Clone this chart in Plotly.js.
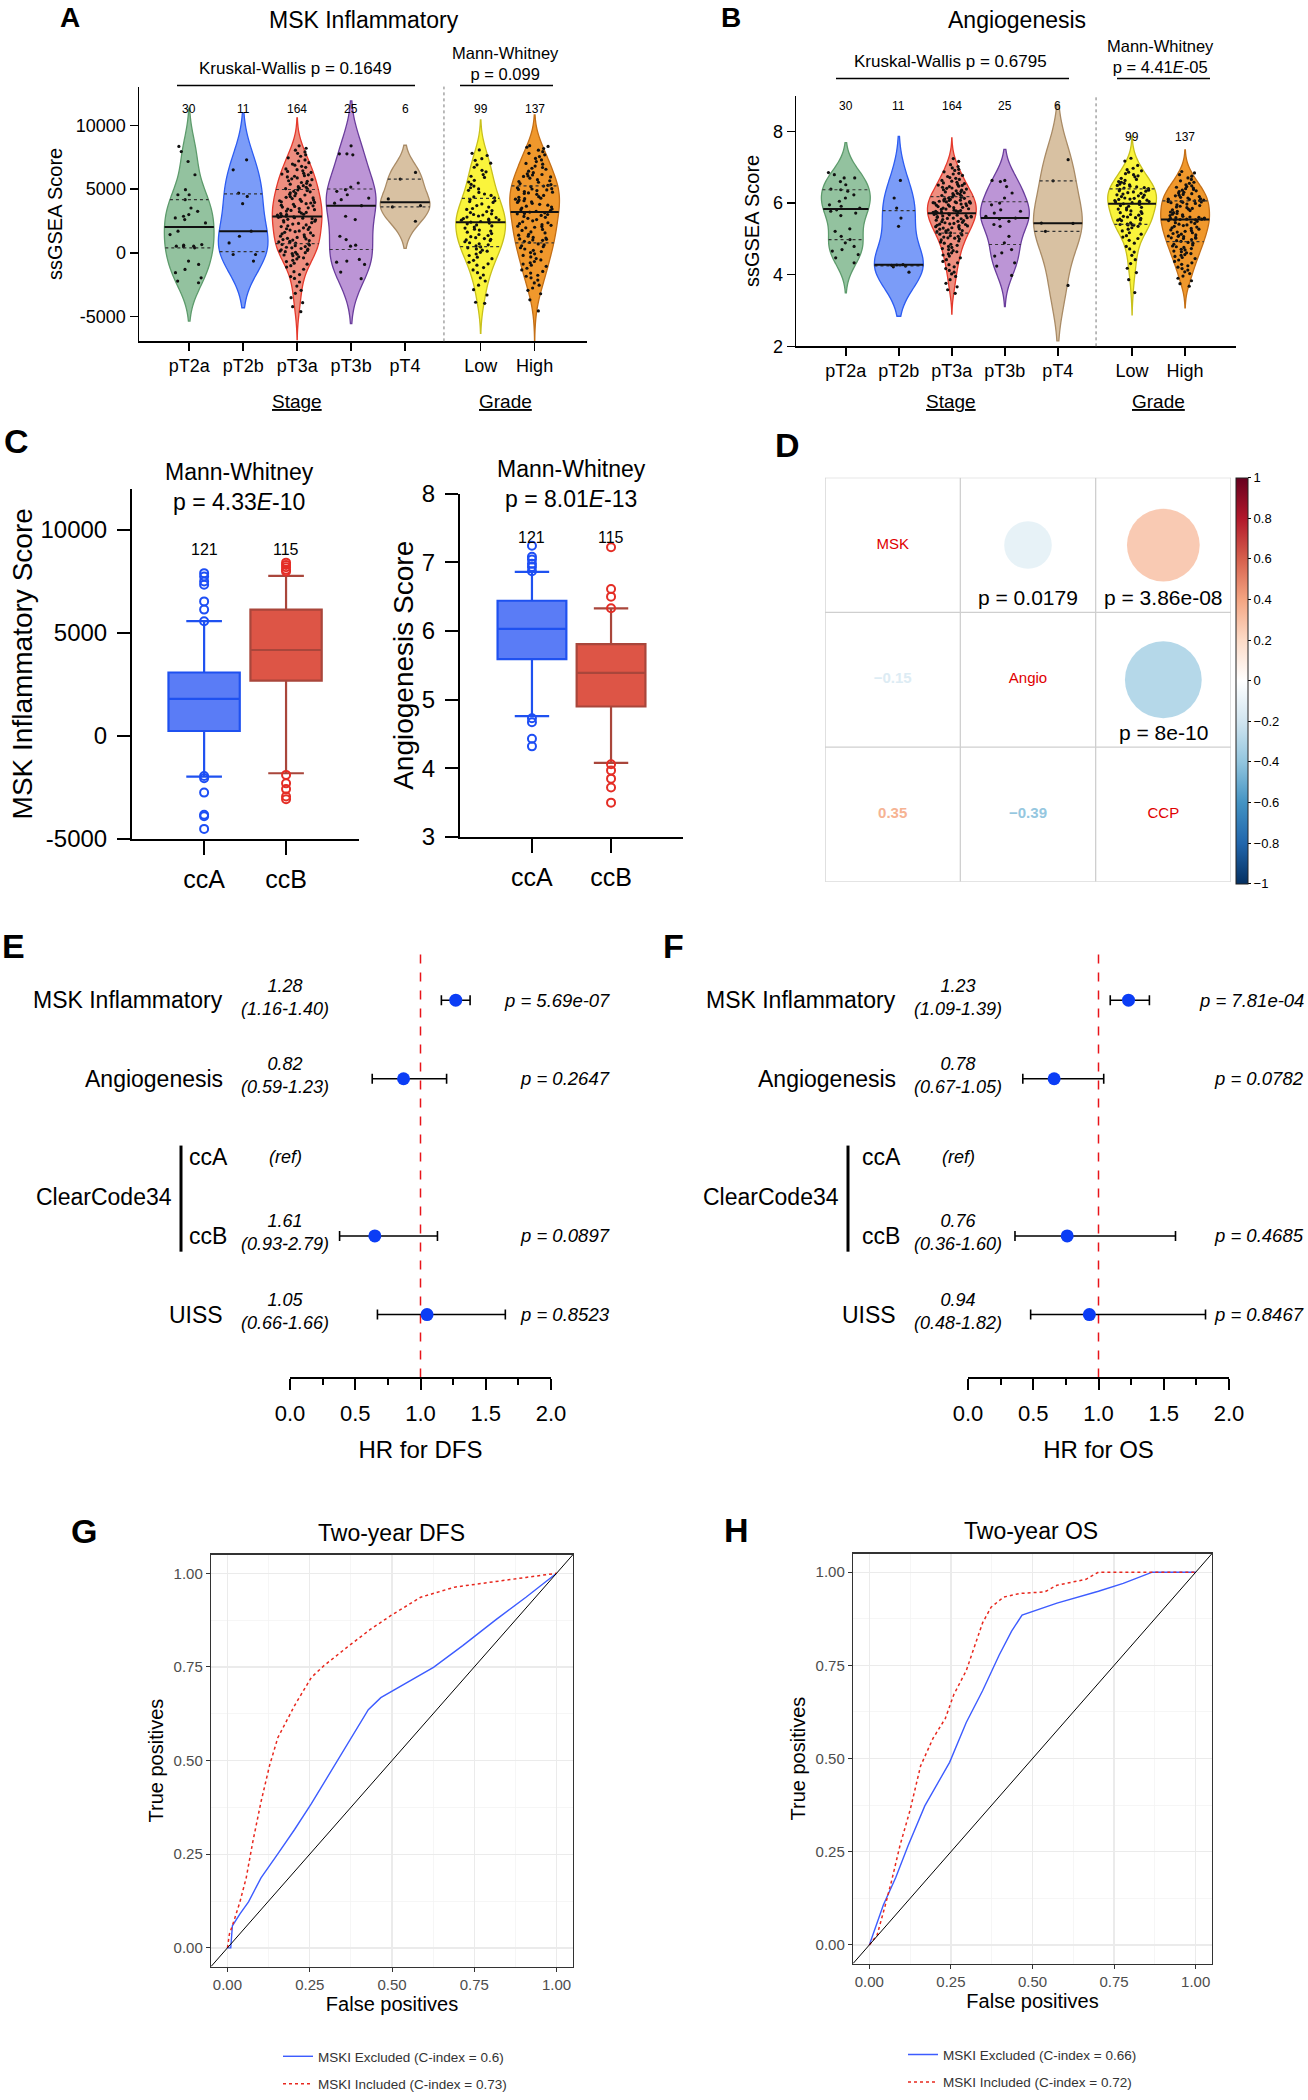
<!DOCTYPE html>
<html>
<head>
<meta charset="utf-8">
<script src="https://cdn.plot.ly/plotly-3.0.1.min.js"></script>
<style>
  body { margin: 0; background: #fff; }
  #fig { width: 1308px; height: 2100px; }
</style>
</head>
<body>
<div id="fig"></div>
<script>
// ---- data -----------------------------------------------------------------

// A/B: ssGSEA scores by stage and grade
var groupNames = ['pT2a', 'pT2b', 'pT3a', 'pT3b', 'pT4', 'Low', 'High'];
var groupN = ['30', '11', '164', '25', '6', '99', '137'];

var mskT2a = [8350, 7950, 7170, 6130, 4960, 4560, 4560, 4170, 3520, 3260, 3000, 2870, 2740, 2610, 2350,
  1700, 1430, 650, 600, 520, 520, 470, 390, -650, -910, -1300, -1560, -1960, -2220, -2350];
var mskT2b = [7300, 6520, 4690, 4430, 3860, 1700, 1300, 780, -130, -130, -650];
var mskT3a = [8400, 8210, 8060, 7920, 7810, 7690, 7580, 7460, 7290, 7210,
  7080, 6970, 6880, 6790, 6710, 6590, 6530, 6440, 6390, 6310,
  6240, 6180, 6120, 6060, 6010, 5960, 5880, 5810, 5740, 5660,
  5610, 5520, 5460, 5390, 5310, 5270, 5190, 5140, 5090, 5040,
  5000, 4940, 4890, 4830, 4790, 4710, 4660, 4590, 4540, 4480,
  4420, 4360, 4310, 4260, 4190, 4140, 4090, 4040, 4010, 3960,
  3910, 3860, 3810, 3740, 3690, 3640, 3590, 3530, 3480, 3440,
  3390, 3330, 3280, 3230, 3170, 3120, 3080, 3030, 3000, 2960,
  2910, 2870, 2840, 2820, 2790, 2760, 2720, 2680, 2630, 2590,
  2540, 2480, 2420, 2370, 2310, 2260, 2190, 2120, 2060, 2010,
  1960, 1890, 1840, 1790, 1720, 1660, 1610, 1560, 1490, 1420,
  1360, 1310, 1260, 1210, 1140, 1090, 1040, 1000, 960, 910,
  860, 810, 760, 700, 660, 610, 560, 490, 440, 390,
  340, 290, 240, 190, 140, 90, 40, 10, -60, -110,
  -170, -220, -310, -390, -480, -590, -690, -810, -890, -1010,
  -1120, -1290, -1480, -1710, -1860, -2010, -2290, -2610, -2940, -3180,
  -3520, -3910, -4230, -4620];
var mskT3b = [8400, 7770, 7770, 7690, 5480, 5160, 4960, 4830, 4560, 4300, 4170, 3900, 3700,
  2870, 2610, 1300, 1040, 600, 520, -520, -650, -730, -910, -1510, -2030];
var mskT4 = [6310, 5790, 4230, 3700, 3600, 2480];
var mskLow = [8080, 7810, 7640, 7390, 7260, 7040, 6910, 6720, 6480, 6360, 6140, 6010,
  5920, 5690, 5560, 5380, 5240, 5110, 5020, 4910, 4740, 4620, 4510, 4390, 4310, 4180, 4090, 4020,
  3960, 3840, 3710, 3590, 3480, 3410, 3320, 3240, 3160, 3060, 3010,
  2970, 2890, 2810, 2760, 2690, 2640, 2590, 2560, 2510, 2460, 2410, 2340, 2280, 2190, 2110, 2020,
  1940, 1860, 1790, 1710, 1620, 1510, 1440, 1360, 1270, 1190, 1120, 1060, 1010,
  960, 870, 790, 710, 630, 540, 460, 390, 310, 210, 130, 40,
  -90, -210, -340, -460, -590, -740, -860, -970, -1160, -1340, -1560, -1740, -1960,
  -2210, -2540, -2890, -3310, -3880, -3960];
var mskHigh = [8410, 8350, 8290, 8190, 8060, 7940, 7810, 7690, 7560, 7410, 7290, 7160, 7020,
  6960, 6810, 6700, 6640, 6560, 6410, 6290, 6210, 6150, 6110, 6040, 6000,
  5960, 5860, 5740, 5660, 5600, 5540, 5440, 5360, 5300, 5240, 5200, 5110, 5040, 5010,
  4980, 4940, 4890, 4810, 4760, 4700, 4660, 4590, 4510, 4410, 4360, 4290, 4250, 4210, 4140, 4090, 4060, 4010,
  3960, 3890, 3810, 3740, 3660, 3590, 3510, 3440, 3390, 3310, 3260, 3200, 3140, 3090, 3060, 3010,
  2940, 2860, 2790, 2710, 2610, 2510, 2440, 2360, 2290, 2210, 2160, 2090, 2060, 2010,
  1960, 1840, 1760, 1640, 1560, 1460, 1390, 1310, 1210, 1160, 1090, 1060, 1010,
  980, 900, 810, 700, 620, 550, 480, 400, 300, 200, 100, 20,
  -80, -200, -320, -450, -560, -680, -780, -880, -970,
  -1060, -1210, -1340, -1460, -1590, -1760, -1840, -1960,
  -2140, -2360, -2540, -2760, -2940, -3210, -3690, -4560];

var angT2a = [6.85, 6.79, 6.70, 6.70, 6.60, 6.51, 6.39, 6.37, 6.33, 6.23,
  6.14, 6.05, 5.95, 5.91, 5.86, 5.81, 5.77, 5.72, 5.65, 5.28,
  5.21, 5.07, 4.98, 4.89, 4.79, 4.70, 4.66, 4.56, 4.47, 4.33];
var angT2b = [6.63, 6.14, 5.86, 5.58, 5.35, 4.28, 4.27, 4.26, 4.24, 4.22, 4.07];
var angT3a = [7.24, 7.16, 7.07, 7.02,
  6.98, 6.94, 6.91, 6.87, 6.83, 6.81, 6.77, 6.74, 6.71, 6.69, 6.66, 6.63, 6.61, 6.58, 6.56, 6.54, 6.52, 6.50,
  6.49, 6.47, 6.46, 6.44, 6.42, 6.41, 6.39, 6.37, 6.36, 6.34, 6.32, 6.31, 6.29, 6.27, 6.26, 6.24, 6.22, 6.21, 6.19, 6.17,
  6.16, 6.14, 6.13, 6.12, 6.10, 6.09, 6.08, 6.07, 6.06, 6.05, 6.04, 6.03, 6.03, 6.02, 6.01, 6.01, 6.00, 6.00,
  5.98, 5.97, 5.95, 5.94, 5.93, 5.91, 5.90, 5.88, 5.87, 5.86, 5.84, 5.83, 5.82, 5.80, 5.79, 5.78, 5.77, 5.76, 5.75, 5.74,
  5.73, 5.72, 5.71, 5.70, 5.68, 5.67, 5.66, 5.65, 5.64, 5.63, 5.62, 5.61, 5.60, 5.59, 5.58, 5.57, 5.56, 5.54, 5.52, 5.51,
  5.49, 5.48, 5.46, 5.45, 5.43, 5.42, 5.41, 5.40, 5.38, 5.37, 5.36, 5.34, 5.33, 5.31, 5.30, 5.28, 5.27, 5.25, 5.23, 5.22,
  5.20, 5.18, 5.17, 5.15, 5.13, 5.11, 5.09, 5.07, 5.05, 5.03, 5.02, 5.00,
  4.97, 4.94, 4.91, 4.88, 4.85, 4.82, 4.79, 4.76, 4.73, 4.70, 4.67, 4.64, 4.61, 4.58, 4.55, 4.52,
  4.47, 4.42, 4.37, 4.33, 4.28, 4.22, 4.17, 4.12, 4.07, 4.02,
  3.95, 3.86, 3.76, 3.66, 3.58, 3.48];
var angT3b = [6.63, 6.63, 6.60, 6.46, 6.28, 6.14, 6.00, 5.95, 5.81, 5.77, 5.72, 5.63, 5.58,
  5.56, 5.49, 5.40, 5.35, 5.07, 4.89, 4.70, 4.61, 4.52, 4.33, 4.24, 3.98];
var angT4 = [7.21, 6.62, 5.44, 5.43, 5.21, 3.70];
var angLow = [7.25, 7.17, 7.05,
  6.97, 6.93, 6.90, 6.86, 6.82, 6.79, 6.76, 6.73, 6.69, 6.66, 6.63, 6.60, 6.58, 6.55, 6.53, 6.51,
  6.49, 6.47, 6.45, 6.43, 6.42, 6.40, 6.38, 6.36, 6.34, 6.33, 6.31, 6.29, 6.27, 6.25, 6.23,
  6.22, 6.20, 6.18, 6.16, 6.14, 6.13, 6.11, 6.10, 6.08, 6.07, 6.05, 6.04, 6.03, 6.02, 6.01,
  5.98, 5.96, 5.93, 5.91, 5.88, 5.86, 5.83, 5.81, 5.78, 5.76, 5.73, 5.71, 5.68, 5.66, 5.63,
  5.61, 5.59, 5.57, 5.55, 5.53, 5.52, 5.51,
  5.45, 5.42, 5.41, 5.40, 5.40, 5.39, 5.38, 5.35, 5.31, 5.27, 5.22, 5.17, 5.13, 5.09, 5.05, 5.01,
  4.96, 4.88, 4.79, 4.72, 4.63, 4.54, 4.42, 4.31, 4.18, 4.06, 3.86, 3.50];
var angHigh = [6.88, 6.84, 6.79, 6.75, 6.70, 6.66, 6.62, 6.58, 6.55, 6.51,
  6.48, 6.46, 6.44, 6.42, 6.40, 6.38, 6.36, 6.34, 6.32, 6.30, 6.28, 6.26, 6.24, 6.22, 6.20,
  6.18, 6.16, 6.14, 6.12, 6.11, 6.10, 6.09, 6.08, 6.07, 6.06, 6.05, 6.04, 6.03, 6.02, 6.01,
  5.99, 5.97, 5.95, 5.93, 5.91, 5.89, 5.87, 5.85, 5.83, 5.81, 5.79, 5.77, 5.75, 5.73, 5.71, 5.69,
  5.67, 5.65, 5.63, 5.61, 5.60, 5.59, 5.58, 5.57, 5.56, 5.56, 5.55, 5.55, 5.54, 5.53, 5.52, 5.51,
  5.49, 5.47, 5.45, 5.43, 5.41, 5.39, 5.37, 5.35, 5.33, 5.31, 5.29, 5.27, 5.25, 5.23, 5.21, 5.19,
  5.17, 5.15, 5.13, 5.11, 5.09, 5.08, 5.07, 5.06, 5.04, 5.03, 5.02, 5.01,
  4.98, 4.95, 4.93, 4.90, 4.88, 4.85, 4.83, 4.80, 4.78, 4.76, 4.73, 4.71, 4.69, 4.66, 4.64, 4.61, 4.59, 4.56, 4.54, 4.51,
  4.48, 4.45, 4.41, 4.37, 4.33, 4.29, 4.25, 4.21, 4.17, 4.13, 4.08, 4.03,
  3.96, 3.90, 3.83, 3.75, 3.68];

// C: ClearCode34 box plots (precomputed box statistics + outliers)
var ccNames = ['ccA', 'ccB'];
var ccN = ['121', '115'];
var mskQ1 = [240, 2680], mskMed = [1800, 4170], mskQ3 = [3080, 6130], mskLoW = [-1970, -1810], mskHiW = [5570, 7770];
var mskOutA = [7900, 7740, 7500, 7340, 6530, 6130, 5570, -1940, -2050, -2750, -3820, -3900, -4510];
var mskOutB = [8410, 8300, 8190, 8060, 7980, -1890, -2300, -2580, -2940, -3070];
var angQ1 = [5.59, 4.90], angMed = [6.03, 5.39], angQ3 = [6.44, 5.81], angLoW = [4.76, 4.08], angHiW = [6.86, 6.33];
var angOutA = [7.24, 7.08, 7.04, 6.98, 6.93, 6.87, 4.73, 4.67, 4.43, 4.32];
var angOutB = [7.22, 6.61, 6.50, 6.33, 4.06, 3.97, 3.85, 3.72, 3.50];

// D: correlation matrix
var corrVars = ['MSK', 'Angio', 'CCP'];
var corrR = [[1, -0.15, 0.35], [-0.15, 1, -0.39], [0.35, -0.39, 1]];
var corrP = [[null, '0.0179', '3.86e-08'], [null, null, '8e-10'], [null, null, null]];

// E/F: Cox hazard ratios
var rowKeys = ['MSK Inflammatory', 'Angiogenesis', 'ccA', 'ccB', 'UISS'];
var hrDfs = [1.27, 0.87, null, 0.65, 1.05];
var loDfs = [1.16, 0.63, null, 0.38, 0.67];
var hiDfs = [1.38, 1.20, null, 1.13, 1.65];
var hrTextDfs = ['1.28', '0.82', '', '1.61', '1.05'];
var ciTextDfs = ['(1.16-1.40)', '(0.59-1.23)', '(ref)', '(0.93-2.79)', '(0.66-1.66)'];
var pTextDfs = ['p = 5.69e-07', 'p = 0.2647', '', 'p = 0.0897', 'p = 0.8523'];
var hrOs = [1.23, 0.66, null, 0.76, 0.93];
var loOs = [1.09, 0.42, null, 0.36, 0.48];
var hiOs = [1.39, 1.04, null, 1.59, 1.82];
var hrTextOs = ['1.23', '0.78', '', '0.76', '0.94'];
var ciTextOs = ['(1.09-1.39)', '(0.67-1.05)', '(ref)', '(0.36-1.60)', '(0.48-1.82)'];
var pTextOs = ['p = 7.81e-04', 'p = 0.0782', '', 'p = 0.4685', 'p = 0.8467'];

// G/H: time-dependent ROC curves
var dfsExclFpr = [0, 0.010, 0.015, 0.038, 0.064, 0.102, 0.153, 0.204, 0.255, 0.332, 0.383, 0.428, 0.466, 0.562, 0.626, 0.715, 0.817, 0.907, 1];
var dfsExclTpr = [0, 0, 0.059, 0.091, 0.123, 0.187, 0.251, 0.316, 0.385, 0.497, 0.572, 0.636, 0.668, 0.717, 0.749, 0.807, 0.877, 0.936, 1];
var dfsInclFpr = [0, 0.006, 0.019, 0.038, 0.057, 0.077, 0.102, 0.128, 0.153, 0.204, 0.255, 0.294, 0.370, 0.434, 0.498, 0.587, 0.690, 0.779, 0.907, 1];
var dfsInclTpr = [0, 0.037, 0.070, 0.123, 0.187, 0.283, 0.390, 0.487, 0.561, 0.647, 0.722, 0.754, 0.807, 0.850, 0.888, 0.936, 0.963, 0.973, 0.989, 1];
var osExclFpr = [0, 0.018, 0.043, 0.081, 0.119, 0.170, 0.246, 0.297, 0.347, 0.398, 0.436, 0.468, 0.575, 0.702, 0.778, 0.867, 1];
var osExclTpr = [0, 0.043, 0.107, 0.181, 0.267, 0.373, 0.490, 0.597, 0.682, 0.778, 0.842, 0.885, 0.917, 0.949, 0.970, 1, 1];
var osInclFpr = [0, 0.024, 0.049, 0.068, 0.094, 0.125, 0.157, 0.195, 0.233, 0.259, 0.297, 0.322, 0.347, 0.373, 0.411, 0.461, 0.537, 0.575, 0.626, 0.664, 0.702, 1];
var osInclTpr = [0, 0.027, 0.107, 0.171, 0.267, 0.362, 0.480, 0.554, 0.608, 0.672, 0.736, 0.800, 0.864, 0.906, 0.933, 0.943, 0.947, 0.965, 0.975, 0.981, 1, 1];

// ---- page geometry helpers (pixel -> paper) --------------------------------
var W = 1308, H = 2100;
function fx(px) { return px / W; }
function fy(px) { return 1 - px / H; }
function dx(a, b) { return [a / W, b / W]; }
function dy(top, bottom) { return [1 - bottom / H, 1 - top / H]; }

var traces = [], shapes = [], notes = [];

function label(text, x, y, size, extra) {
  var a = { text: text, x: fx(x), y: fy(y), xref: 'paper', yref: 'paper', showarrow: false,
    xanchor: 'center', yanchor: 'middle', font: { size: size, color: '#000' } };
  for (var k in extra) a[k] = extra[k];
  return a;
}
function seg(x0, y0, x1, y1, width, dash, color) {
  return { type: 'line', xref: 'paper', yref: 'paper', x0: fx(x0), y0: fy(y0), x1: fx(x1), y1: fy(y1),
    line: { color: color || '#000', width: width || 1.5, dash: dash || 'solid' } };
}

// ---- A / B violins ---------------------------------------------------------
var catPos = [0, 1, 2, 3, 4, 5.4, 6.4];
var vWidth = 0.92;
var vFill = ['#93c29f', '#7b9cf8', '#ee8e7f', '#bc95d6', '#d8c1a2', '#faf43c', '#f0982c'];
var vLine = ['#5d9b6c', '#2c5cf2', '#e5392c', '#6a3d9c', '#a98b66', '#c8c01c', '#c46f16'];

function interp(s, p) {
  var n = p * s.length - 0.5;
  if (n < 0) return s[0];
  if (n > s.length - 1) return s[s.length - 1];
  var f = n % 1;
  return f * s[Math.ceil(n)] + (1 - f) * s[Math.floor(n)];
}

// median / quartile lines spanning the violin outline (same KDE as plotly)
function violinLines(vals, pos, xref, yref) {
  var s = vals.slice().sort(function (a, b) { return a - b; });
  var n = s.length;
  var mean = s.reduce(function (a, b) { return a + b; }, 0) / n;
  var sd = Math.sqrt(s.reduce(function (a, v) { return a + (v - mean) * (v - mean); }, 0) / (n - 1));
  var q1 = interp(s, 0.25), med = interp(s, 0.5), q3 = interp(s, 0.75);
  var bw = Math.max(1.059 * Math.min(sd, (q3 - q1) / 1.349) * Math.pow(n, -0.2), (s[n - 1] - s[0]) / 100);
  function kde(t) {
    var sum = 0;
    for (var i = 0; i < n; i++) { var u = (t - s[i]) / bw; sum += Math.exp(-u * u / 2); }
    return sum;
  }
  var lo = s[0] - 2 * bw, hi = s[n - 1] + 2 * bw, steps = Math.ceil((hi - lo) / (bw / 3)), maxK = 0;
  for (var k = 0; k <= steps; k++) maxK = Math.max(maxK, kde(lo + k * (hi - lo) / steps));
  return [[q1, 'dot', 1.2, '#333'], [med, 'solid', 2, '#111'], [q3, 'dot', 1.2, '#333']].map(function (q) {
    var hw = vWidth / 2 * kde(q[0]) / maxK;
    return { type: 'line', xref: xref, yref: yref, x0: pos - hw, x1: pos + hw, y0: q[0], y1: q[0],
      line: { color: q[3], width: q[2], dash: q[1] } };
  });
}

function addViolins(groups, xa, ya) {
  groups.forEach(function (vals, k) {
    traces.push({ type: 'violin', x0: catPos[k], y: vals, name: groupNames[k], xaxis: xa, yaxis: ya,
      width: vWidth, fillcolor: vFill[k], line: { color: vLine[k], width: 1.3 },
      points: 'all', pointpos: 0, jitter: 0.8, marker: { size: 3.2, color: '#111' },
      spanmode: 'soft', scalemode: 'width', showlegend: false, hoverinfo: 'y' });
    shapes = shapes.concat(violinLines(vals, catPos[k], xa, ya));
  });
  shapes.push({ type: 'line', xref: xa, yref: ya + ' domain', x0: 4.72, x1: 4.72, y0: 0, y1: 1,
    line: { color: '#777', width: 1, dash: 'dot' } });
}
addViolins([mskT2a, mskT2b, mskT3a, mskT3b, mskT4, mskLow, mskHigh], 'x', 'y');
addViolins([angT2a, angT2b, angT3a, angT3b, angT4, angLow, angHigh], 'x2', 'y2');

groupN.forEach(function (t, k) {
  notes.push({ text: t, x: catPos[k], xref: 'x', y: fy(100), yref: 'paper', xanchor: 'center', showarrow: false, font: { size: 12 } });
  notes.push({ text: t, x: catPos[k], xref: 'x2', y: fy(k < 5 ? 97 : 129), yref: 'paper', xanchor: 'center', showarrow: false, font: { size: 12 } });
});

notes.push(label('MSK Inflammatory', 364, 20, 23));
notes.push(label('Angiogenesis', 1017, 20, 23));
notes.push(label('Kruskal-Wallis p = 0.1649', 295, 69, 17));
notes.push(label('Mann-Whitney<br>p = 0.099', 506, 64, 16.5));
notes.push(label('Kruskal-Wallis p = 0.6795', 950, 62, 17));
notes.push(label('Mann-Whitney<br>p = 4.41<i>E</i>-05', 1160, 57, 16.5));
shapes.push(seg(177, 86, 415, 86), seg(460, 86, 553, 86), seg(836, 79, 1069, 79), seg(1117, 79, 1210, 79));
notes.push(label('<u>Stage</u>', 297, 403, 19), label('<u>Grade</u>', 505, 403, 19));
notes.push(label('<u>Stage</u>', 951, 403, 19), label('<u>Grade</u>', 1158, 403, 19));

// ---- C boxes ---------------------------------------------------------------
var ccFill = ['#5a7cf6', '#dd5546'];
var ccLine = ['#1f51f0', '#a9463b'];
var ccOut = ['#1d4ef5', '#e42d25'];
function addBoxes(q1, med, q3, lo, hi, outs, xa, ya, nY) {
  [0, 1].forEach(function (k) {
    traces.push({ type: 'box', x: [k], q1: [q1[k]], median: [med[k]], q3: [q3[k]],
      lowerfence: [lo[k]], upperfence: [hi[k]], name: ccNames[k], xaxis: xa, yaxis: ya,
      width: 0.87, whiskerwidth: 0.5, fillcolor: ccFill[k], line: { color: ccLine[k], width: 2.2 },
      boxpoints: false, showlegend: false, hoverinfo: 'y' });
    traces.push({ type: 'scatter', mode: 'markers', x: outs[k].map(function () { return k; }), y: outs[k],
      xaxis: xa, yaxis: ya, marker: { symbol: 'circle-open', size: 8, color: ccOut[k], line: { width: 2 } },
      showlegend: false, hoverinfo: 'y' });
    notes.push({ text: ccN[k], x: k, xref: xa, y: fy(nY), yref: 'paper', xanchor: 'center',
      showarrow: false, font: { size: 16 } });
  });
}
addBoxes(mskQ1, mskMed, mskQ3, mskLoW, mskHiW, [mskOutA, mskOutB], 'x3', 'y3', 542);
addBoxes(angQ1, angMed, angQ3, angLoW, angHiW, [angOutA, angOutB], 'x4', 'y4', 530);
notes.push(label('Mann-Whitney<br>p = 4.33<i>E</i>-10', 239, 489, 23));
notes.push(label('Mann-Whitney<br>p = 8.01<i>E</i>-13', 571, 486, 23));

// ---- D correlation plot ----------------------------------------------------
var rdbu = ['#053061', '#2166AC', '#4393C3', '#92C5DE', '#D1E5F0', '#FFFFFF', '#FDDBC7', '#F4A582', '#D6604D', '#B2182B', '#67001F'];
var rdbuScale = rdbu.map(function (c, i) { return [i / 10, c]; });
function rdbuColor(r) {
  var t = (r + 1) * 5, i = Math.min(9, Math.floor(t)), f = t - i;
  var a = rdbu[i], b = rdbu[i + 1], out = [];
  for (var c = 0; c < 3; c++) {
    var va = parseInt(a.substr(1 + 2 * c, 2), 16), vb = parseInt(b.substr(1 + 2 * c, 2), 16);
    out.push(Math.round(va + (vb - va) * f));
  }
  return 'rgb(' + out.join(',') + ')';
}
var cX = [], cY = [], cR = [], cS = [], tX = [], tY = [], tT = [], tC = [], dX = [], dY = [];
corrVars.forEach(function (v, i) {
  dX.push(i + 0.5); dY.push(i + 0.5);
  corrVars.forEach(function (w, j) {
    var r = corrR[i][j];
    if (j > i) {
      cX.push(j + 0.5); cY.push(i + 0.5); cR.push(r); cS.push(123 * Math.sqrt(Math.abs(r)));
      notes.push({ text: 'p = ' + corrP[i][j], x: j + 0.5, y: i + 0.89, xref: 'x5', yref: 'y5',
        xanchor: 'center', showarrow: false, font: { size: 21 } });
    } else if (j < i) {
      tX.push(j + 0.5); tY.push(i + 0.5); tC.push(rdbuColor(r));
      tT.push('<b>' + r.toFixed(2).replace('-', '\u2212') + '</b>');
    }
  });
});
traces.push({ type: 'scatter', mode: 'markers', x: cX, y: cY, xaxis: 'x5', yaxis: 'y5', showlegend: false,
  hoverinfo: 'text', text: cR.map(String),
  marker: { size: cS, color: cR, colorscale: rdbuScale, cmin: -1, cmax: 1, line: { width: 0 }, showscale: true,
    colorbar: { x: fx(1236), xanchor: 'left', y: fy(480), yanchor: 'top', len: 406, lenmode: 'pixels',
      thickness: 12, thicknessmode: 'pixels', xpad: 0, ypad: 0, outlinewidth: 1, outlinecolor: '#222',
      tickvals: [-1, -0.8, -0.6, -0.4, -0.2, 0, 0.2, 0.4, 0.6, 0.8, 1],
      ticktext: ['\u22121', '\u22120.8', '\u22120.6', '\u22120.4', '\u22120.2', '0', '0.2', '0.4', '0.6', '0.8', '1'],
      ticks: 'outside', ticklen: 3, tickcolor: '#000', tickfont: { size: 13, color: '#000' } } } });
traces.push({ type: 'scatter', mode: 'text', x: tX, y: tY, text: tT, xaxis: 'x5', yaxis: 'y5',
  textfont: { size: 15, color: tC }, showlegend: false, hoverinfo: 'skip' });
traces.push({ type: 'scatter', mode: 'text', x: dX, y: dY, text: corrVars, xaxis: 'x5', yaxis: 'y5',
  textfont: { size: 15, color: '#e00000' }, showlegend: false, hoverinfo: 'skip' });
for (var g = 0; g <= 3; g++) {
  shapes.push({ type: 'line', xref: 'x5', yref: 'y5', x0: g, x1: g, y0: 0, y1: 3, line: { color: '#cfcfcf', width: 1.3 }, layer: 'below' });
  shapes.push({ type: 'line', xref: 'x5', yref: 'y5', x0: 0, x1: 3, y0: g, y1: g, line: { color: '#cfcfcf', width: 1.3 }, layer: 'below' });
}

// ---- E / F forest plots ----------------------------------------------------
function forest(n, hr, lo, hi, hrText, ciText, pText, at) {
  var xa = 'x' + n, ya = 'y' + n;
  traces.push({ type: 'scatter', mode: 'markers', x: hr, y: rowKeys, xaxis: xa, yaxis: ya, showlegend: false,
    marker: { size: 13, color: '#0b3df5' }, hoverinfo: 'x',
    error_x: { type: 'data', symmetric: false, color: '#000', thickness: 1.6, width: 5,
      array: hi.map(function (v, i) { return v == null ? null : v - hr[i]; }),
      arrayminus: lo.map(function (v, i) { return v == null ? null : hr[i] - v; }) } });
  shapes.push({ type: 'line', xref: xa, yref: ya + ' domain', x0: 1, x1: 1, y0: 0, y1: 1,
    line: { color: '#e8141a', width: 1.5, dash: 'dash' }, layer: 'below' });
  shapes.push({ type: 'line', xref: 'paper', yref: ya, x0: fx(at.bar), x1: fx(at.bar), y0: 1.85, y1: 3.2,
    line: { color: '#000', width: 3 } });
  notes.push({ text: 'ClearCode34', x: fx(at.group), xref: 'paper', y: 2.5, yref: ya, xanchor: 'left',
    showarrow: false, font: { size: 23 } });
  rowKeys.forEach(function (key, i) {
    var sub = key === 'ccA' || key === 'ccB';
    notes.push({ text: key, x: fx(sub ? at.sub : at.right), xref: 'paper', y: i, yref: ya,
      xanchor: sub ? 'left' : 'right', showarrow: false, font: { size: 23 } });
    notes.push({ text: hrText[i] ? '<i>' + hrText[i] + '</i><br><i>' + ciText[i] + '</i>' : '<i>' + ciText[i] + '</i>',
      x: fx(at.hr), xref: 'paper', xanchor: 'center', y: i, yref: ya, yshift: hrText[i] ? 3 : 0,
      showarrow: false, font: { size: 18 } });
    if (pText[i]) notes.push({ text: '<i>' + pText[i] + '</i>', x: fx(at.p), xref: 'paper', y: i, yref: ya,
      xanchor: 'right', showarrow: false, font: { size: 18.5 } });
  });
}
forest(6, hrDfs, loDfs, hiDfs, hrTextDfs, ciTextDfs, pTextDfs, { right: 225, sub: 187, group: 34, bar: 181, hr: 285, p: 612 });
forest(7, hrOs, loOs, hiOs, hrTextOs, ciTextOs, pTextOs, { right: 898, sub: 860, group: 701, bar: 848, hr: 958, p: 1306 });

// ---- G / H ROC -------------------------------------------------------------
function roc(xa, ya, leg, exclF, exclT, exclName, inclF, inclT, inclName) {
  traces.push({ type: 'scatter', mode: 'lines', x: exclF, y: exclT, xaxis: xa, yaxis: ya, name: exclName,
    legend: leg, legendgroup: leg + 'a', line: { color: '#3d5cff', width: 1.4 } });
  traces.push({ type: 'scatter', mode: 'lines', x: inclF, y: inclT, xaxis: xa, yaxis: ya, name: inclName,
    legend: leg, legendgroup: leg + 'b', line: { color: '#e8281e', width: 1.5, dash: 'dot' } });
  shapes.push({ type: 'line', xref: xa, yref: ya, x0: -0.05, y0: -0.05, x1: 1.05, y1: 1.05,
    line: { color: '#000', width: 1 } });
}
roc('x8', 'y8', 'legend', dfsExclFpr, dfsExclTpr, 'MSKI Excluded (C-index = 0.6)', dfsInclFpr, dfsInclTpr, 'MSKI Included (C-index = 0.73)');
roc('x9', 'y9', 'legend2', osExclFpr, osExclTpr, 'MSKI Excluded (C-index = 0.66)', osInclFpr, osInclTpr, 'MSKI Included (C-index = 0.72)');
notes.push(label('Two-year DFS', 391, 1540, 23), label('Two-year OS', 1031, 1538, 23));

// panel letters
[['A', 70, 18, 28], ['B', 731, 18, 28], ['D', 787, 447, 34], ['F', 673, 951, 34], ['G', 84, 1538, 34], ['H', 736, 1537, 34]]
  .forEach(function (p) { notes.push(label('<b>' + p[0] + '</b>', p[1], p[2], p[3])); });
notes.push(label('<b>C</b>', 2, 443, 34, { xanchor: 'left' }));
notes.push(label('<b>E</b>', 0, 951, 34, { xanchor: 'left' }));

// ---- axes ------------------------------------------------------------------
function ax(o) {
  var a = { showgrid: false, zeroline: false, showline: true, linecolor: '#000', linewidth: 1.5,
    ticks: 'outside', tickcolor: '#000', tickwidth: 1.5, ticklen: 8, tickfont: { size: 18 }, fixedrange: true, autorange: false };
  for (var k in o) a[k] = o[k];
  return a;
}
function rocAx(o) {
  var a = { range: [-0.05, 1.05], tickvals: [0, 0.25, 0.5, 0.75, 1], tickformat: '.2f', ticks: 'outside', ticklen: 4,
    tickcolor: '#333', tickfont: { size: 15, color: '#4d4d4d' }, showgrid: true, gridcolor: '#ebebeb', gridwidth: 1.3,
    minor: { tickvals: [0.125, 0.375, 0.625, 0.875], showgrid: true, gridcolor: '#f4f4f4', gridwidth: 0.8 },
    showline: true, mirror: true, linecolor: '#333', linewidth: 1.2, zeroline: false, fixedrange: true, autorange: false };
  for (var k in o) a[k] = o[k];
  return a;
}
var hidden = { visible: false, showgrid: false, zeroline: false, fixedrange: true, autorange: false };

var layout = {
  width: W, height: H, margin: { l: 0, r: 0, t: 0, b: 0 }, paper_bgcolor: '#fff', plot_bgcolor: 'rgba(0,0,0,0)',
  font: { family: 'Liberation Sans, Arial, Helvetica, sans-serif', color: '#000' },
  showlegend: true, violinmode: 'overlay', boxmode: 'overlay',
  xaxis: ax({ domain: dx(139, 587), anchor: 'y', type: 'linear', range: [-0.93, 7.37], tickvals: catPos, ticktext: groupNames }),
  yaxis: ax({ domain: dy(87, 343), anchor: 'x', range: [-6950, 13050], tickvals: [-5000, 0, 5000, 10000],
    ticktext: ['-5000', '0', '5000', '10000'], title: { text: 'ssGSEA Score', font: { size: 20 }, standoff: 8 } }),
  xaxis2: ax({ domain: dx(796, 1236), anchor: 'y2', type: 'linear', range: [-0.94, 7.36], tickvals: catPos, ticktext: groupNames }),
  yaxis2: ax({ domain: dy(96, 348), anchor: 'x2', range: [2, 9], tickvals: [2, 4, 6, 8],
    title: { text: 'ssGSEA Score', font: { size: 20 }, standoff: 8 } }),
  xaxis3: ax({ domain: dx(132, 359), anchor: 'y3', type: 'linear', range: [-0.88, 1.89], tickvals: [0, 1], ticktext: ccNames,
    ticklen: 14, ticklabelstandoff: 3, linewidth: 2, tickwidth: 2, tickfont: { size: 25 } }),
  yaxis3: ax({ domain: dy(491, 843), anchor: 'x3', range: [-5000, 12000], tickvals: [-5000, 0, 5000, 10000],
    ticktext: ['-5000', '0', '5000', '10000'], ticklen: 13, ticklabelstandoff: 5, linewidth: 2, tickwidth: 2,
    tickfont: { size: 24 }, title: { text: 'MSK Inflammatory Score', font: { size: 28 }, standoff: 0 } }),
  xaxis4: ax({ domain: dx(460, 683), anchor: 'y4', type: 'linear', range: [-0.91, 1.91], tickvals: [0, 1], ticktext: ccNames,
    ticklen: 14, ticklabelstandoff: 3, linewidth: 2, tickwidth: 2, tickfont: { size: 25 } }),
  yaxis4: ax({ domain: dy(496, 841), anchor: 'x4', range: [3, 8], tickvals: [3, 4, 5, 6, 7, 8], ticklen: 13,
    ticklabelstandoff: 5, linewidth: 2, tickwidth: 2, tickfont: { size: 24 },
    title: { text: 'Angiogenesis Score', font: { size: 28 }, standoff: 0 } }),
  xaxis5: Object.assign({ domain: dx(825, 1231), anchor: 'y5', range: [0, 3] }, hidden),
  yaxis5: Object.assign({ domain: dy(480, 886), anchor: 'x5', range: [3, 0] }, hidden),
  xaxis6: ax({ domain: dx(290, 551), anchor: 'y6', range: [0, 2], dtick: 0.5, tick0: 0, tickformat: '.1f',
    ticklen: 11, ticklabelstandoff: 4, linewidth: 2, tickwidth: 2, tickfont: { size: 22 },
    minor: { ticks: 'outside', ticklen: 6, dtick: 0.25, tick0: 0, tickwidth: 2, tickcolor: '#000' },
    title: { text: 'HR for DFS', font: { size: 24 }, standoff: 16 } }),
  yaxis6: Object.assign({ domain: dy(956, 1384), anchor: 'x6', type: 'category', categoryorder: 'array',
    categoryarray: rowKeys, range: [4.8, -0.62] }, hidden),
  xaxis7: ax({ domain: dx(968, 1229), anchor: 'y7', range: [0, 2], dtick: 0.5, tick0: 0, tickformat: '.1f',
    ticklen: 11, ticklabelstandoff: 4, linewidth: 2, tickwidth: 2, tickfont: { size: 22 },
    minor: { ticks: 'outside', ticklen: 6, dtick: 0.25, tick0: 0, tickwidth: 2, tickcolor: '#000' },
    title: { text: 'HR for OS', font: { size: 24 }, standoff: 16 } }),
  yaxis7: Object.assign({ domain: dy(956, 1384), anchor: 'x7', type: 'category', categoryorder: 'array',
    categoryarray: rowKeys, range: [4.8, -0.62] }, hidden),
  xaxis8: rocAx({ domain: dx(211, 573), anchor: 'y8', title: { text: 'False positives', font: { size: 20 }, standoff: 4 } }),
  yaxis8: rocAx({ domain: dy(1562, 1976), anchor: 'x8', title: { text: 'True positives', font: { size: 20 }, standoff: 4 } }),
  xaxis9: rocAx({ domain: dx(853, 1212), anchor: 'y9', title: { text: 'False positives', font: { size: 20 }, standoff: 4 } }),
  yaxis9: rocAx({ domain: dy(1561, 1973), anchor: 'x9', title: { text: 'True positives', font: { size: 20 }, standoff: 4 } }),
  legend: { x: fx(278), y: fy(2051), xanchor: 'left', yanchor: 'top', bgcolor: 'rgba(0,0,0,0)',
    font: { size: 13.5, color: '#333' }, tracegroupgap: 7, traceorder: 'grouped' },
  legend2: { x: fx(903), y: fy(2049), xanchor: 'left', yanchor: 'top', bgcolor: 'rgba(0,0,0,0)',
    font: { size: 13.5, color: '#333' }, tracegroupgap: 7, traceorder: 'grouped' },
  shapes: shapes,
  annotations: notes
};

Plotly.newPlot('fig', traces, layout, { staticPlot: true, displayModeBar: false });
</script>
</body>
</html>
